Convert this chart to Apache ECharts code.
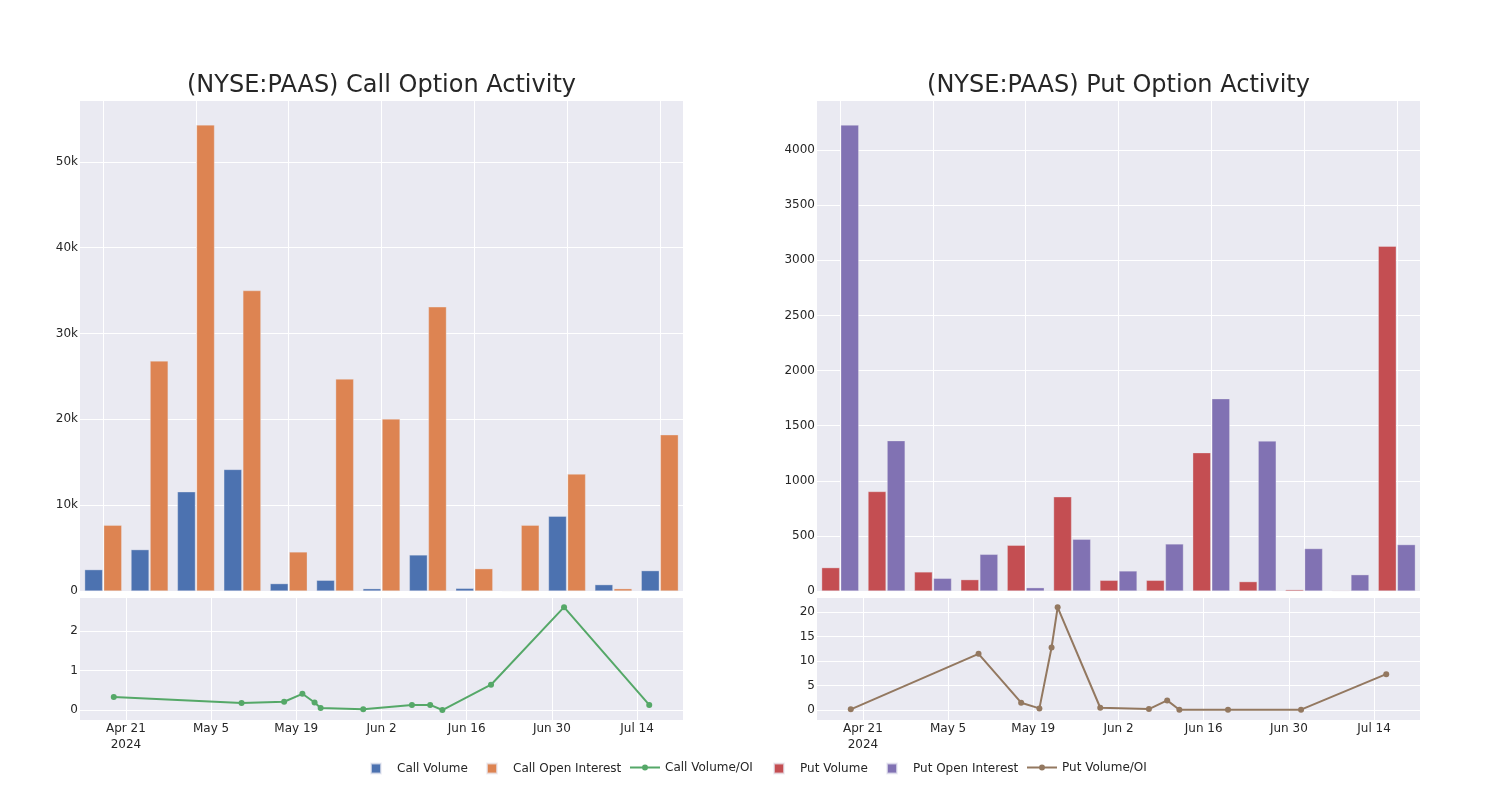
<!DOCTYPE html>
<html><head><meta charset="utf-8">
<script src="https://cdn.jsdelivr.net/npm/echarts@6/dist/echarts.min.js"></script>
<style>html,body{margin:0;padding:0;background:#fff}#c{width:1500px;height:800px}</style>
</head><body><div id="c"></div>
<script>
// ---- data ----
const weekDates = ['2024-04-21','2024-04-28','2024-05-05','2024-05-12','2024-05-19','2024-05-26','2024-06-02','2024-06-09','2024-06-16','2024-06-23','2024-06-30','2024-07-07','2024-07-14'];
const callVolume = [2490, 4820, 11560, 14160, 860, 1250, 270, 4200, 310, 40, 8720, 740, 2370];
const callOpenInterest = [7670, 26800, 54300, 35000, 4550, 24700, 20050, 33100, 2600, 7670, 13620, 270, 18200];
const putVolume = [212, 903, 173, 103, 415, 855, 97, 97, 1255, 85, 12, 5, 3128];
const putOpenInterest = [4228, 1364, 115, 333, 30, 470, 182, 427, 1745, 1361, 385, 148, 421];
const ratioDates = ['2024-04-19','2024-05-10','2024-05-17','2024-05-20','2024-05-22','2024-05-23','2024-05-30','2024-06-07','2024-06-10','2024-06-12','2024-06-20','2024-07-02','2024-07-16'];
const callVolOI = [0.33, 0.18, 0.21, 0.41, 0.19, 0.05, 0.02, 0.13, 0.13, 0.0, 0.64, 2.6, 0.13];
const putVolOI = [0.15, 11.46, 1.5, 0.34, 12.75, 20.95, 0.47, 0.2, 1.97, 0.07, 0.07, 0.07, 7.32];
const dateTicks = ['2024-04-21','2024-05-05','2024-05-19','2024-06-02','2024-06-16','2024-06-30','2024-07-14'];
const seriesNames = ['Call Volume', 'Call Open Interest', 'Call Volume/OI', 'Put Volume', 'Put Open Interest', 'Put Volume/OI'];
const callTitle = '(NYSE:PAAS) Call Option Activity';
const putTitle = '(NYSE:PAAS) Put Option Activity';

// ---- helpers ----
const MONTHS = ['Jan','Feb','Mar','Apr','May','Jun','Jul','Aug','Sep','Oct','Nov','Dec'];
const t = s => { const [y, m, d] = s.split('-').map(Number); return Date.UTC(y, m - 1, d); };
const DAY = 86400000;
const tickVals = dateTicks.map(t);
const pair = (dates, vals) => dates.map((d, i) => [t(d), vals[i]]);

const TXT = '#262626';
const FONT = 'DejaVu Sans';
const GRIDBG = '#EAEAF2';
const COLORS = ['#4C72B0', '#DD8452', '#55A868', '#C44E52', '#8172B3', '#937860'];

const topMin = t(weekDates[0]) - 3.5 * DAY, topMax = t(weekDates[weekDates.length - 1]) + 3.5 * DAY;
const botMin = t(ratioDates[0]) - 5.55 * DAY, botMax = t(ratioDates[ratioDates.length - 1]) + 5.55 * DAY;

function xAxis(gridIndex, min, max, labels) {
  return {
    type: 'value', gridIndex, min, max, scale: true,
    axisLine: { show: false }, axisTick: { show: false, customValues: tickVals },
    splitLine: { show: true, lineStyle: { color: '#fff', width: 1 } },
    axisLabel: labels ? {
      show: true, customValues: tickVals, color: TXT, fontFamily: FONT, fontSize: 12, margin: 1, lineHeight: 16,
      formatter: v => { const d = new Date(v); const s = MONTHS[d.getUTCMonth()] + ' ' + d.getUTCDate(); return Math.abs(v - tickVals[0]) < 1000 ? s + '\n' + d.getUTCFullYear() : s; }
    } : { show: false, customValues: tickVals }
  };
}
function yAxis(gridIndex, opts, fmt) {
  return Object.assign({
    type: 'value', gridIndex,
    axisLine: { show: false }, axisTick: { show: false },
    splitLine: { show: true, lineStyle: { color: '#fff', width: 1 } },
    axisLabel: { color: TXT, fontFamily: FONT, fontSize: 12, margin: 2, padding: [5, 0, 0, 0], showMinLabel: opts.showMin !== false, showMaxLabel: false, formatter: fmt }
  }, opts.axis);
}
const barStyle = col => ({ color: col, borderColor: 'rgba(234,234,242,0.7)', borderWidth: 0.5 });

// legend: one component per item so each sits where the reference places it
const legendTextX = [396, 512, 665, 799, 912, 1062];
const LINE_ICON = 'path://M0,5H30V7H0Z M12,6a3,3 0 1,1 6,0a3,3 0 1,1 -6,0Z';
const legends = seriesNames.map((name, i) => {
  const isLine = name.endsWith('/OI');
  return isLine ? {
    left: legendTextX[i] - 35, top: 761.5, padding: 0, itemWidth: 30, itemHeight: 12, icon: LINE_ICON,
    textStyle: { fontFamily: FONT, fontSize: 12, color: TXT }, data: [name]
  } : {
    left: legendTextX[i] - 26, top: 762.5, padding: 0, itemWidth: 10, itemHeight: 10, icon: 'rect',
    textStyle: { fontFamily: FONT, fontSize: 12, color: TXT, padding: [0, 0, 0, 11] }, data: [name]
  };
});

const chart = echarts.init(document.getElementById('c'), null, { renderer: 'canvas' });
chart.setOption({
  animation: false,
  backgroundColor: '#fff',
  textStyle: { fontFamily: FONT, color: TXT },
  title: [
    { text: callTitle, left: 381.5, top: 74, padding: 0, textAlign: 'center', textStyle: { fontFamily: FONT, fontSize: 24, fontWeight: 'normal', color: TXT } },
    { text: putTitle, left: 1118.5, top: 74, padding: 0, textAlign: 'center', textStyle: { fontFamily: FONT, fontSize: 24, fontWeight: 'normal', color: TXT } }
  ],
  legend: legends,
  grid: [
    { left: 80, top: 100, width: 603, height: 491, show: true, backgroundColor: GRIDBG, borderWidth: 0 },
    { left: 80, top: 597, width: 603, height: 123, show: true, backgroundColor: GRIDBG, borderWidth: 0 },
    { left: 817, top: 100, width: 603, height: 491, show: true, backgroundColor: GRIDBG, borderWidth: 0 },
    { left: 817, top: 597, width: 603, height: 123, show: true, backgroundColor: GRIDBG, borderWidth: 0 }
  ],
  xAxis: [
    xAxis(0, topMin, topMax, false),
    xAxis(1, botMin, botMax, true),
    xAxis(2, topMin, topMax, false),
    xAxis(3, botMin, botMax, true)
  ],
  yAxis: [
    yAxis(0, { axis: { min: 0, max: 57200, interval: 10000 } }, v => (v % 10000 !== 0 ? '' : (v === 0 ? '0' : (v / 1000) + 'k'))),
    yAxis(1, { showMin: false, axis: { min: -0.252, max: 2.856, splitNumber: 3, minInterval: 1, maxInterval: 1 } }, v => (Math.abs(v - Math.round(v)) > 1e-6 ? '' : String(Math.round(v)))),
    yAxis(2, { axis: { min: 0, max: 4455, interval: 500 } }, v => (v % 500 !== 0 ? '' : String(v))),
    yAxis(3, { showMin: false, axis: { min: -2.03, max: 23.05, splitNumber: 5, minInterval: 5, maxInterval: 5 } }, v => (Math.abs(v / 5 - Math.round(v / 5)) > 1e-6 ? '' : String(Math.round(v))))
  ],
  series: [
    { name: seriesNames[0], type: 'bar', xAxisIndex: 0, yAxisIndex: 0, barWidth: 18, barGap: '6%', itemStyle: barStyle(COLORS[0]), data: pair(weekDates, callVolume) },
    { name: seriesNames[1], type: 'bar', xAxisIndex: 0, yAxisIndex: 0, barWidth: 18, barGap: '6%', itemStyle: barStyle(COLORS[1]), data: pair(weekDates, callOpenInterest) },
    { name: seriesNames[2], type: 'line', xAxisIndex: 1, yAxisIndex: 1, symbol: 'circle', symbolSize: 6, showAllSymbol: true,
      lineStyle: { color: COLORS[2], width: 2 }, itemStyle: { color: COLORS[2] }, data: pair(ratioDates, callVolOI) },
    { name: seriesNames[3], type: 'bar', xAxisIndex: 2, yAxisIndex: 2, barWidth: 18, barGap: '6%', itemStyle: barStyle(COLORS[3]), data: pair(weekDates, putVolume) },
    { name: seriesNames[4], type: 'bar', xAxisIndex: 2, yAxisIndex: 2, barWidth: 18, barGap: '6%', itemStyle: barStyle(COLORS[4]), data: pair(weekDates, putOpenInterest) },
    { name: seriesNames[5], type: 'line', xAxisIndex: 3, yAxisIndex: 3, symbol: 'circle', symbolSize: 6, showAllSymbol: true,
      lineStyle: { color: COLORS[5], width: 2 }, itemStyle: { color: COLORS[5] }, data: pair(ratioDates, putVolOI) }
  ]
});
</script>
</body></html>
